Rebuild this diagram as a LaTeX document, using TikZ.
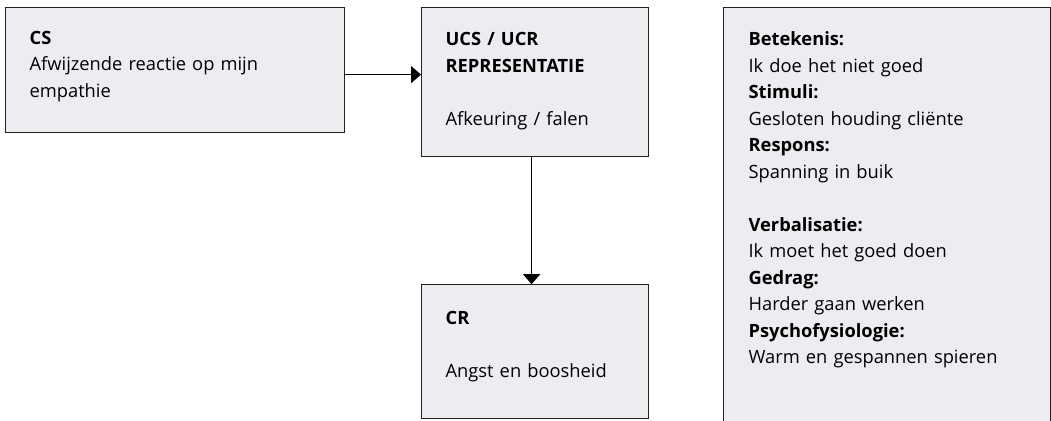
\documentclass[tikz,border=0pt]{standalone}
\usepackage{fontspec}
\setmainfont{Open Sans}
\usepackage{tikz}
\usetikzlibrary{positioning,arrows.meta}

\definecolor{boxfill}{RGB}{236,237,240}
\definecolor{boxline}{RGB}{34,34,34}
\tikzset{
	box/.style={draw=boxline, fill=boxfill, line width=1.2pt, anchor=north west, align=left,
		inner xsep=24pt, inner ysep=0pt, font=\fontsize{18.3}{26.5}\selectfont},
	arr/.style={line width=1.6pt, -{Triangle[width=17pt,length=10pt]}}
}

\begin{document}
\begin{tikzpicture}[x=1pt,y=-1pt]
\useasboundingbox (0,0) rectangle (1051,420);
	\node[box, text width=291pt, text height=36.5pt, text depth=88.5pt] (cs) at (5,7)
		{\textbf{CS}\\Afwijzende reactie op mijn\\empathie};
	\node[box, text width=179pt, text height=38pt, text depth=111pt] (ucs) at (421,7)
		{\textbf{UCS / UCR}\\\textbf{REPRESENTATIE}\\[26.5pt]Afkeuring / falen};
	\node[box, text width=179pt, text height=40pt, text depth=94pt, anchor=north,
		below=127pt of ucs] (cr)
		{\textbf{CR}\\[26.5pt]Angst en boosheid};
	\node[box, text width=277pt, text height=38pt, text depth=392pt, inner xsep=25pt] (info) at (723,7)
		{\textbf{Betekenis:}\\Ik doe het niet goed\\
		 \textbf{Stimuli:}\\Gesloten houding cliënte\\
		 \textbf{Respons:}\\Spanning in buik\\[26.5pt]
		 \textbf{Verbalisatie:}\\Ik moet het goed doen\\
		 \textbf{Gedrag:}\\Harder gaan werken\\
		 \textbf{Psychofysiologie:}\\Warm en gespannen spieren};

	\draw[arr] ([yshift=-4.5pt]cs.east) -- ([yshift=-4.5pt]cs.east -| ucs.west);
	\draw[arr] ([xshift=-3.5pt]ucs.south) -- ([xshift=-3.5pt]cr.north);
\end{tikzpicture}
\end{document}
